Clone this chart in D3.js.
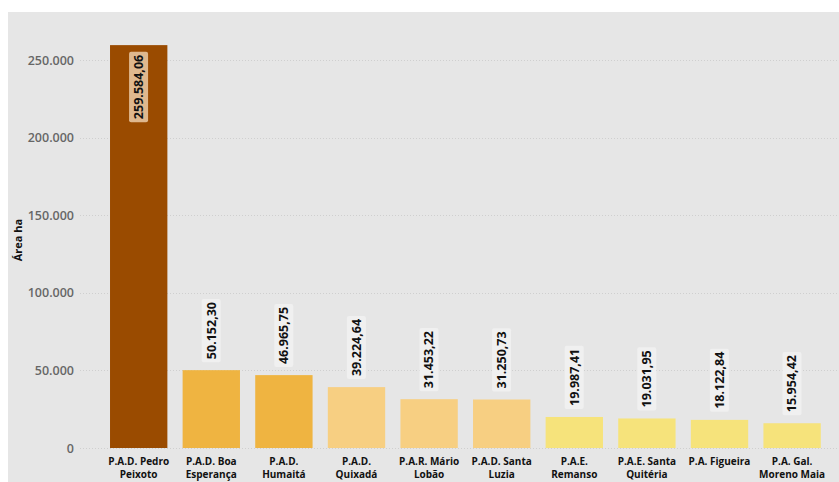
<!DOCTYPE html>
<html>
<head>
<meta charset="utf-8">
<script src="https://cdn.jsdelivr.net/npm/d3@7"></script>
<style>
  html, body { margin: 0; padding: 0; background: #ffffff; }
  svg { display: block; }
  text { font-family: "Segoe UI", "Open Sans", "Noto Sans", sans-serif; }
</style>
</head>
<body>
<svg id="chart" width="839" height="482"></svg>
<script>
// Projetos de assentamento e área (ha)
const categories = [
  ["P.A.D. Pedro", "Peixoto"],
  ["P.A.D. Boa", "Esperança"],
  ["P.A.D.", "Humaitá"],
  ["P.A.D.", "Quixadá"],
  ["P.A.R. Mário", "Lobão"],
  ["P.A.D. Santa", "Luzia"],
  ["P.A.E.", "Remanso"],
  ["P.A.E. Santa", "Quitéria"],
  ["P.A. Figueira"],
  ["P.A. Gal.", "Moreno Maia"]
];
const areas = [259584.06, 50152.30, 46965.75, 39224.64, 31453.22, 31250.73, 19987.41, 19031.95, 18122.84, 15954.42];
const barColors = ["#9a4b00", "#efb441", "#efb441", "#f7cf82", "#f7cf82", "#f7cf82", "#f6e37b", "#f6e37b", "#f6e37b", "#f6e37b"];
const yTicks = [0, 50000, 100000, 150000, 200000, 250000];
const yTitle = "Área ha";

const svg = d3.select("#chart");
const W = 839, H = 482;

// plot panel
svg.append("rect").attr("x", 8).attr("y", 12).attr("width", W - 8).attr("height", H - 12).attr("fill", "#e6e6e6");

const y = d3.scaleLinear().domain([0, 250000]).range([448, 60]);
const x = d3.scaleBand().domain(d3.range(categories.length))
  .range([95.5, 835.3]).paddingInner(0.21).paddingOuter(0.2);

const ptBR = d3.formatLocale({ decimal: ",", thousands: ".", grouping: [3], currency: ["R$", ""] });
const fmtTick = ptBR.format(",.0f");
const fmtVal = ptBR.format(",.2f");

// grid lines
svg.append("g").selectAll("line").data(yTicks).join("line")
  .attr("x1", 80).attr("x2", W)
  .attr("y1", d => Math.round(y(d)) + 0.5).attr("y2", d => Math.round(y(d)) + 0.5)
  .attr("stroke", "#cfcfcf").attr("stroke-width", 1).attr("stroke-dasharray", "1,2");

// y axis labels
const yAxis = d3.axisLeft(y).tickValues(yTicks).tickFormat(fmtTick).tickSize(0).tickPadding(0);
const gy = svg.append("g").attr("transform", "translate(74,0)").call(yAxis);
gy.select(".domain").remove();
gy.selectAll("text").attr("fill", "#666666").attr("font-size", 12.5).attr("font-weight", 600)
  .attr("font-family", "'Segoe UI', 'Open Sans', sans-serif");

// y axis title
svg.append("text").attr("transform", "translate(22,240) rotate(-90)")
  .attr("text-anchor", "middle").attr("font-size", 11).attr("font-weight", 700).attr("fill", "#111")
  .text(yTitle);

// bars
svg.append("g").selectAll("rect").data(areas).join("rect")
  .attr("x", (d, i) => x(i)).attr("width", x.bandwidth())
  .attr("y", d => y(d)).attr("height", d => y(0) - y(d))
  .attr("fill", (d, i) => barColors[i]);

// value labels (rotated, boxed)
const labels = svg.append("g");
areas.forEach((d, i) => {
  const cx = x(i) + x.bandwidth() / 2;
  const inside = y(d) < 120;
  const baseY = inside ? y(d) + 74 : y(d) - 11;
  const g = labels.append("g").attr("transform", `translate(${cx},${baseY}) rotate(-90)`);
  const t = g.append("text").attr("x", 0).attr("y", 0).attr("dy", "0.35em")
    .attr("font-size", 12.5).attr("font-weight", 700).attr("fill", "#111")
    .text(fmtVal(d));
  const bb = t.node().getBBox();
  g.insert("rect", "text")
    .attr("x", bb.x - 3).attr("y", bb.y - 1).attr("width", bb.width + 6).attr("height", bb.height + 2)
    .attr("rx", 2)
    .attr("fill", inside ? "#dfb88e" : "#f0f0f0");
});

// category labels (one text per line)
const gx = svg.append("g");
categories.forEach((lines, i) => {
  const cx = x(i) + x.bandwidth() / 2;
  lines.forEach((s, k) => gx.append("text")
    .attr("x", cx).attr("y", 465 + k * 13)
    .attr("text-anchor", "middle").attr("font-size", 10).attr("font-weight", 700).attr("fill", "#111")
    .text(s));
});
</script>
</body>
</html>
